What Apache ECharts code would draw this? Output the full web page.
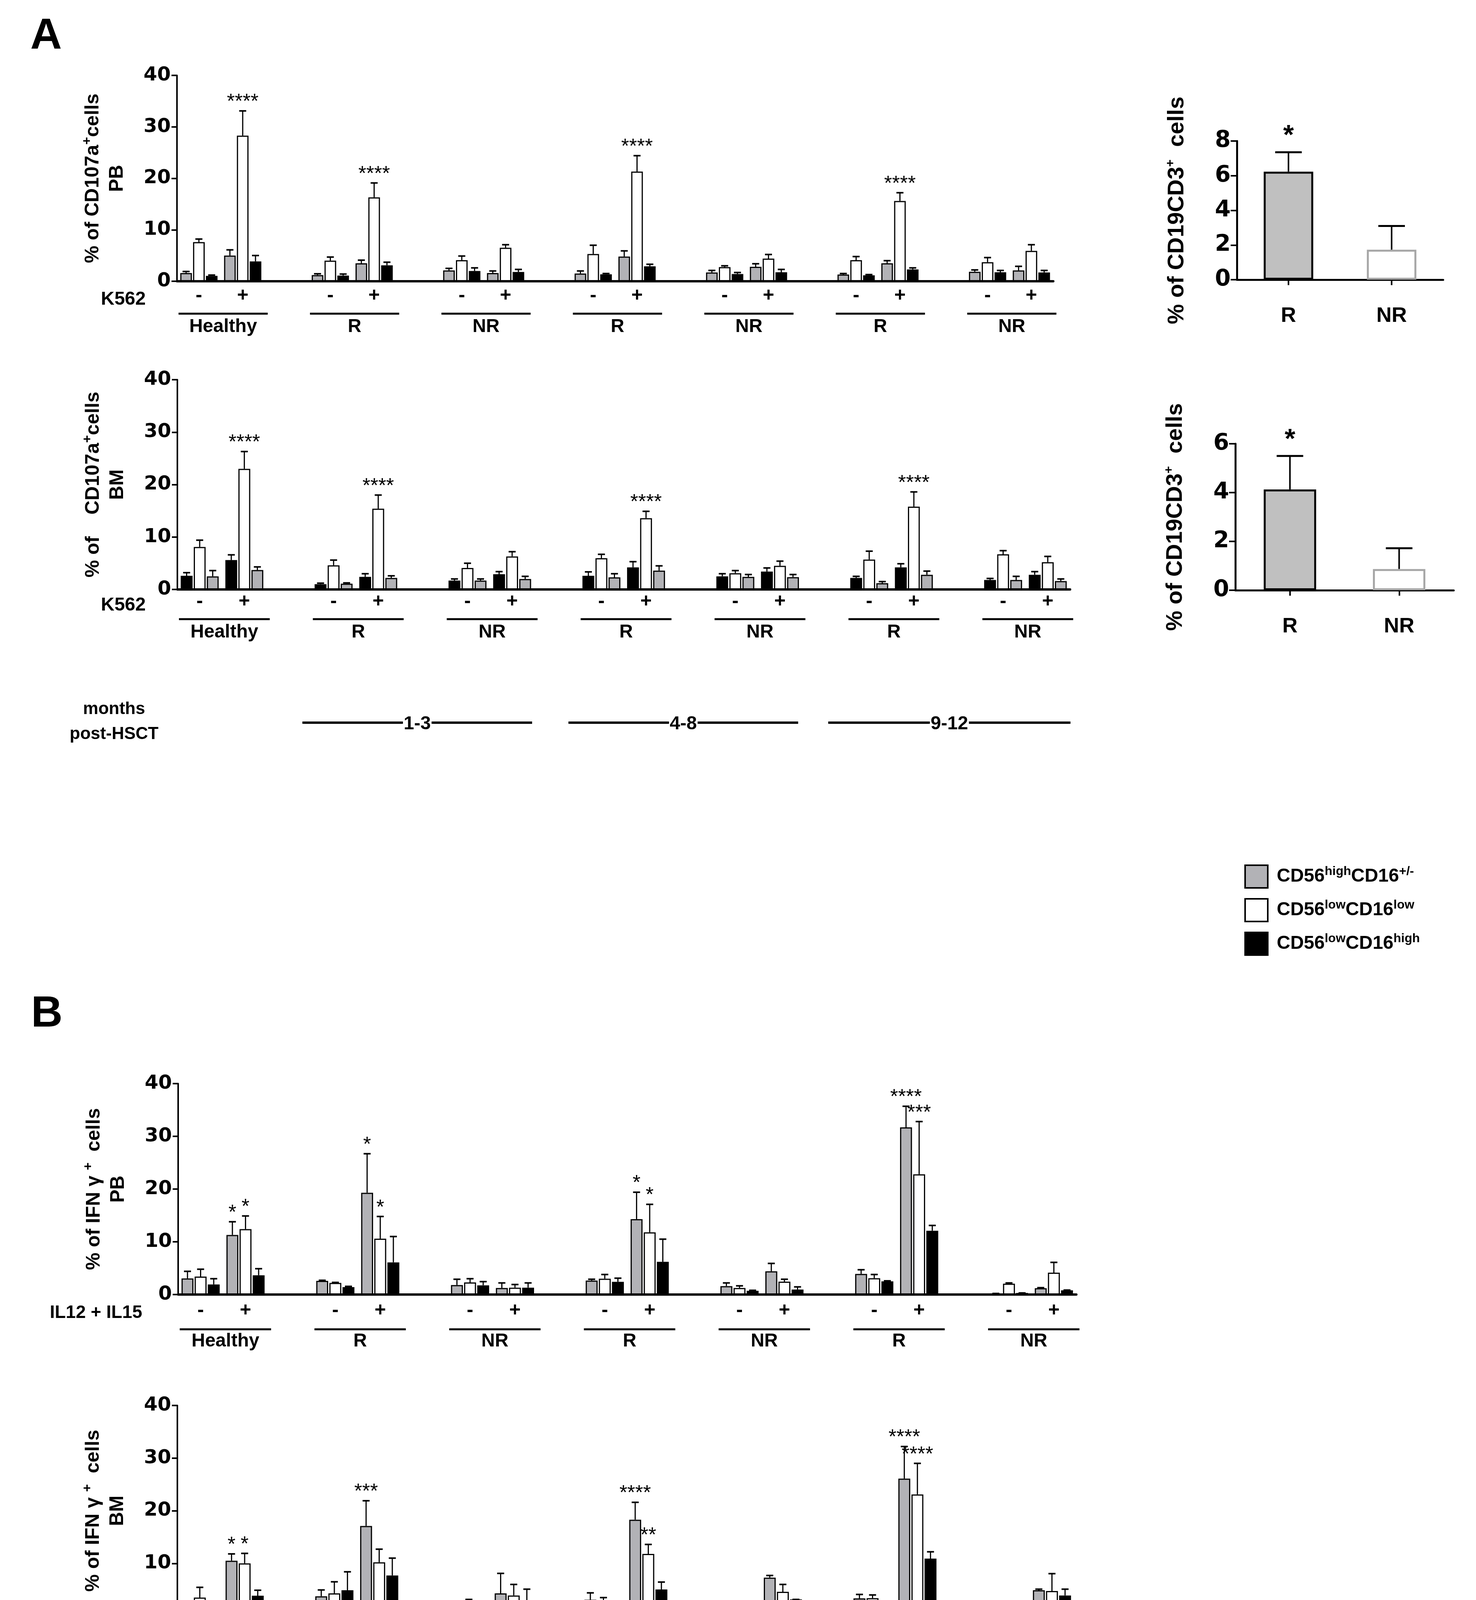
<!DOCTYPE html>
<html>
<head>
<meta charset="utf-8">
<script src="https://cdn.jsdelivr.net/npm/echarts@6/dist/echarts.min.js"></script>
<style>
  html, body { margin: 0; padding: 0; background: #fff; }
  #chart { width: 3778px; height: 4606px; }
</style>
</head>
<body>
<div id="chart"></div>
<script>
var FONT = '"Liberation Sans", Arial, sans-serif';
var NUM_FONT = '"DejaVu Sans", "Liberation Sans", sans-serif';
var CAT_GAP = 0.15;
var BAR_GAP = 0.1;

// x layout: 7 groups, each with a "-" and "+" condition
var subLabels = ['-', '+', '-', '+', '-', '+', '-', '+', '-', '+', '-', '+', '-', '+'];
var groupNames = ['Healthy', 'R', 'NR', 'R', 'NR', 'R', 'NR'];
var monthRanges = ['1-3', '4-8', '9-12'];
var subsetNames = ['CD56highCD16+/-', 'CD56lowCD16low', 'CD56lowCD16high'];

// A, CD107a+ PB (mean, upper end of error bar)
var aPbGray     = [1.6, 5.0, 1.2, 3.5, 2.1, 1.6, 1.5, 4.8, 1.7, 2.8, 1.3, 3.5, 1.85, 2.1];
var aPbGrayErr  = [1.9, 6.1, 1.45, 4.1, 2.5, 2.0, 2.0, 5.9, 2.1, 3.4, 1.5, 4.0, 2.2, 2.9];
var aPbWhite    = [7.6, 28.3, 4.0, 16.3, 4.1, 6.5, 5.3, 21.3, 2.75, 4.4, 4.1, 15.6, 3.7, 5.9];
var aPbWhiteErr = [8.2, 33.1, 4.7, 19.1, 4.9, 7.1, 7.0, 24.4, 3.0, 5.2, 4.8, 17.2, 4.6, 7.1];
var aPbBlack    = [1.05, 3.85, 1.1, 3.1, 2.0, 1.8, 1.35, 2.9, 1.4, 1.75, 1.15, 2.3, 1.75, 1.7];
var aPbBlackErr = [1.2, 5.0, 1.4, 3.7, 2.6, 2.3, 1.5, 3.3, 1.7, 2.3, 1.3, 2.6, 2.1, 2.1];
var aPbStars = [[1, 1, '****'], [3, 1, '****'], [7, 1, '****'], [11, 1, '****']];

// A, CD107a+ BM (bar order black, white, gray)
var aBmBlack    = [2.6, 5.6, 1.0, 2.4, 1.7, 2.9, 2.6, 4.2, 2.5, 3.4, 2.2, 4.2, 1.8, 2.8];
var aBmBlackErr = [3.2, 6.6, 1.2, 3.0, 2.0, 3.4, 3.35, 5.3, 3.0, 4.1, 2.5, 4.9, 2.1, 3.4];
var aBmWhite    = [8.1, 23.0, 4.6, 15.4, 4.1, 6.3, 5.95, 13.6, 3.1, 4.5, 5.7, 15.8, 6.7, 5.2];
var aBmWhiteErr = [9.4, 26.3, 5.6, 18.0, 5.0, 7.2, 6.7, 14.9, 3.6, 5.4, 7.3, 18.6, 7.4, 6.3];
var aBmGray     = [2.5, 3.7, 1.1, 2.2, 1.7, 2.0, 2.3, 3.6, 2.4, 2.35, 1.2, 2.8, 1.8, 1.6];
var aBmGrayErr  = [3.6, 4.3, 1.25, 2.6, 2.0, 2.5, 3.0, 4.5, 2.85, 2.85, 1.5, 3.5, 2.5, 2.0];
var aBmStars = [[1, 1, '****'], [3, 1, '****'], [7, 1, '****'], [11, 1, '****']];

// B, IFN-gamma+ PB
var bPbGray     = [3.05, 11.3, 2.6, 19.3, 1.8, 1.25, 2.65, 14.3, 1.6, 4.4, 3.9, 31.7, 0.2, 1.2];
var bPbGrayErr  = [4.4, 13.8, 2.7, 26.7, 2.9, 2.2, 2.9, 19.4, 2.2, 5.9, 4.7, 35.7, 0.2, 1.3];
var bPbWhite    = [3.4, 12.4, 2.2, 10.6, 2.3, 1.3, 3.0, 11.8, 1.25, 2.45, 3.1, 22.8, 2.05, 4.15];
var bPbWhiteErr = [4.8, 14.9, 2.3, 14.8, 3.0, 1.9, 3.8, 17.1, 1.65, 2.9, 3.8, 32.8, 2.2, 6.1];
var bPbBlack    = [1.9, 3.65, 1.4, 6.1, 1.75, 1.3, 2.4, 6.2, 0.7, 0.95, 2.5, 12.1, 0.3, 0.8];
var bPbBlackErr = [3.0, 4.9, 1.55, 11.0, 2.45, 2.2, 3.1, 10.5, 0.8, 1.45, 2.6, 13.1, 0.3, 0.85];
var bPbStars = [[1, 0, '*'], [1, 1, '*'], [3, 0, '*'], [3, 1, '*'], [7, 0, '*'], [7, 1, '*'],
                [11, 0, '****'], [11, 1, '***']];

// B, IFN-gamma+ BM
var bBmGray     = [1.55, 10.5, 3.75, 17.1, 0.5, 4.3, 3.1, 18.3, 0.9, 7.3, 3.35, 26.1, 1.0, 4.9];
var bBmGrayErr  = [2.75, 11.8, 4.95, 21.9, 0.7, 8.1, 4.4, 21.6, 1.1, 7.7, 4.1, 32.2, 1.3, 5.1];
var bBmWhite    = [3.5, 10.0, 4.3, 10.2, 1.75, 3.9, 2.65, 11.8, 1.75, 4.6, 3.4, 23.1, 0.65, 4.75];
var bBmWhiteErr = [5.45, 11.9, 6.5, 12.7, 3.15, 6.0, 3.5, 13.6, 2.5, 6.0, 4.0, 29.0, 1.05, 8.05];
var bBmBlack    = [1.55, 3.85, 4.9, 7.7, 0.65, 2.75, 2.25, 5.05, 1.4, 3.15, 2.4, 10.9, 1.2, 3.9];
var bBmBlackErr = [2.75, 4.9, 8.4, 11.0, 0.7, 5.1, 2.55, 6.45, 1.4, 3.15, 2.5, 12.2, 1.35, 5.1];
var bBmStars = [[1, 0, '*'], [1, 1, '*'], [3, 0, '***'], [7, 0, '****'], [7, 1, '**'],
                [11, 0, '****'], [11, 1, '****']];

// right panels: % of CD19CD3+ cells
var rightCats = ['R', 'NR'];
var cd19Pb = [6.23, 1.73];
var cd19PbErr = [7.35, 3.1];
var cd19Bm = [4.13, 0.87];
var cd19BmErr = [5.5, 1.72];

var SUBSET = {
  gray:  { name: subsetNames[0], fill: '#b2b2b6' },
  white: { name: subsetNames[1], fill: '#ffffff' },
  black: { name: subsetNames[2], fill: '#000000' }
};

// put an empty category between groups
function spread(vals, filler) {
  var out = [];
  for (var i = 0; i < vals.length; i++) {
    out.push(vals[i]);
    if (i % 2 === 1 && i < vals.length - 1) out.push(filler);
  }
  return out;
}
function catIndex(s) { return s + Math.floor(s / 2); }

function slotOffset(api, slot, nBars) {
  if (nBars === 1) return 0;
  var band = api.size([1, 0])[0];
  var w = band * (1 - CAT_GAP) / (nBars + (nBars - 1) * BAR_GAP);
  return slot * w * (1 + BAR_GAP);
}

var grids = [], xAxes = [], yAxes = [], series = [];

function errorSeries(gi, data, slot, nBars, capW, lineW) {
  return {
    type: 'custom', xAxisIndex: gi, yAxisIndex: gi, z: 4, silent: true, clip: false,
    encode: { x: 0, y: 1 },
    data: data,
    renderItem: function (params, api) {
      var x = api.coord([api.value(0), 0])[0] + slotOffset(api, slot, nBars);
      var yTop = api.coord([api.value(0), api.value(1)])[1];
      var yMean = api.coord([api.value(0), api.value(2)])[1];
      return {
        type: 'group',
        children: [
          { type: 'line', shape: { x1: x, y1: yMean, x2: x, y2: yTop },
            style: { stroke: '#000', lineWidth: lineW } },
          { type: 'line', shape: { x1: x - capW / 2, y1: yTop, x2: x + capW / 2, y2: yTop },
            style: { stroke: '#000', lineWidth: lineW + 1 } }
        ]
      };
    }
  };
}

function starSeries(gi, data, texts, nBars, font, gap) {
  return {
    type: 'custom', xAxisIndex: gi, yAxisIndex: gi, z: 5, silent: true, clip: false,
    encode: { x: 0, y: 1 },
    data: data,
    renderItem: function (params, api) {
      var x = api.coord([api.value(0), 0])[0] + slotOffset(api, api.value(2) - (nBars - 1) / 2, nBars);
      var y = api.coord([api.value(0), api.value(1)])[1] - gap;
      return {
        type: 'text', x: x, y: y,
        style: { text: texts[params.dataIndex], fill: '#000', font: font,
                 textAlign: 'center', align: 'center', textVerticalAlign: 'middle', verticalAlign: 'middle' }
      };
    }
  };
}

function groupSeries(gi, lineOff, textOff) {
  var data = groupNames.map(function (g, i) { return [3 * i, 0]; });
  return {
    type: 'custom', xAxisIndex: gi, yAxisIndex: gi, z: 5, silent: true, clip: false,
    encode: { x: 0, y: 1 },
    data: data,
    renderItem: function (params, api) {
      var band = api.size([1, 0])[0];
      var c = api.value(0);
      var p0 = api.coord([c, 0]);
      var p1 = api.coord([c + 1, 0]);
      var xs = p0[0] - band / 2 + 4, xe = p1[0] + band / 2 + 8;
      return {
        type: 'group',
        children: [
          { type: 'line', shape: { x1: xs, y1: p0[1] + lineOff, x2: xe, y2: p0[1] + lineOff },
            style: { stroke: '#000', lineWidth: 5 } },
          { type: 'text', x: (xs + xe) / 2, y: p0[1] + textOff,
            style: { text: groupNames[params.dataIndex], fill: '#000', font: 'bold 48px ' + FONT,
                     textAlign: 'center', align: 'center', textVerticalAlign: 'middle', verticalAlign: 'middle' } }
        ]
      };
    }
  };
}

function addMainPanel(p) {
  var gi = grids.length;
  grids.push(Object.assign({ containLabel: false, outerBoundsMode: 'none' }, p.grid));
  xAxes.push({
    gridIndex: gi, type: 'category', data: spread(subLabels, ''),
    axisLine: { lineStyle: { color: '#000', width: 6 } },
    axisTick: { show: false },
    axisLabel: { interval: 0, margin: p.labelMargin, fontSize: 50, fontWeight: 'bold', fontFamily: FONT, color: '#000' },
    splitLine: { show: false }
  });
  yAxes.push({
    gridIndex: gi, type: 'value', min: 0, max: 40, interval: 10,
    axisLine: { show: true, lineStyle: { color: '#000', width: 4 } },
    axisTick: { show: true, length: 14, lineStyle: { color: '#000', width: 4 } },
    axisLabel: { margin: 16, fontSize: 50, fontWeight: 'bold', fontFamily: NUM_FONT, color: '#000' },
    splitLine: { show: false },
    name: p.yName, nameLocation: 'middle', nameRotate: 90, nameGap: 122,
    nameTextStyle: {
      fontSize: 50, fontWeight: 'bold', fontFamily: FONT, color: '#000', lineHeight: 62,
      rich: { sup: { fontSize: 34, fontWeight: 'bold', fontFamily: FONT, color: '#000', verticalAlign: 'top', lineHeight: 36 } }
    }
  });
  p.order.forEach(function (key, k) {
    var means = p.means[k], tops = p.tops[k];
    series.push({
      type: 'bar', name: SUBSET[key].name, xAxisIndex: gi, yAxisIndex: gi,
      data: spread(means, '-'),
      barGap: (BAR_GAP * 100) + '%', barCategoryGap: (CAT_GAP * 100) + '%',
      itemStyle: { color: SUBSET[key].fill, borderColor: '#000', borderWidth: 3 },
      silent: true, z: 2
    });
    var errData = means.map(function (m, s) { return [catIndex(s), tops[s], m]; });
    series.push(errorSeries(gi, errData, k - 1, 3, 18, 3));
  });
  var starData = p.stars.map(function (st) { return [catIndex(st[0]), p.tops[st[1]][st[0]], st[1]]; });
  var starTexts = p.stars.map(function (st) { return st[2]; });
  series.push(starSeries(gi, starData, starTexts, 3, '52px ' + FONT, 22));
  series.push(groupSeries(gi, p.lineOff, p.textOff));
}

function addRightPanel(p) {
  var gi = grids.length;
  grids.push(Object.assign({ containLabel: false, outerBoundsMode: 'none' }, p.grid));
  xAxes.push({
    gridIndex: gi, type: 'category', data: rightCats,
    axisLine: { lineStyle: { color: '#000', width: 5 } },
    axisTick: { show: true, alignWithLabel: true, length: 14, lineStyle: { color: '#000', width: 4 } },
    axisLabel: { margin: 66, fontSize: 54, fontWeight: 'bold', fontFamily: FONT, color: '#000' },
    splitLine: { show: false }
  });
  yAxes.push({
    gridIndex: gi, type: 'value', min: 0, max: p.max, interval: 2,
    axisLine: { show: true, lineStyle: { color: '#000', width: 5 } },
    axisTick: { show: true, length: 16, lineStyle: { color: '#000', width: 4 } },
    axisLabel: { margin: 16, fontSize: 58, fontWeight: 'bold', fontFamily: NUM_FONT, color: '#000' },
    splitLine: { show: false },
    name: '% of CD19CD3{sup|+}  cells', nameLocation: 'middle', nameRotate: 90, nameGap: 120,
    nameTextStyle: {
      fontSize: 58, fontWeight: 'bold', fontFamily: FONT, color: '#000', lineHeight: 66,
      rich: { sup: { fontSize: 32, fontWeight: 'bold', fontFamily: FONT, color: '#000', verticalAlign: 'top', lineHeight: 32 } }
    }
  });
  var looks = [
    { color: '#c0c0c0', borderColor: '#000000', borderWidth: 5 },
    { color: '#ffffff', borderColor: '#a6a6a6', borderWidth: 5 }
  ];
  series.push({
    type: 'bar', xAxisIndex: gi, yAxisIndex: gi, barWidth: '48%', silent: true, z: 2,
    data: p.means.map(function (v, i) { return { value: v, itemStyle: looks[i] }; })
  });
  var errData = p.means.map(function (m, i) { return [i, p.tops[i], m]; });
  series.push(errorSeries(gi, errData, 0, 1, 68, 4));
  series.push(starSeries(gi, [[0, p.tops[0], 0]], ['*'], 1, 'bold 70px ' + FONT, 40));
}

addMainPanel({
  grid: { left: 453, top: 193, width: 2243, height: 527 },
  yName: '% of CD107a{sup|+}cells\nPB',
  order: ['gray', 'white', 'black'],
  means: [aPbGray, aPbWhite, aPbBlack], tops: [aPbGrayErr, aPbWhiteErr, aPbBlackErr],
  stars: aPbStars, labelMargin: 12, lineOff: 83, textOff: 117
});
addMainPanel({
  grid: { left: 454, top: 972, width: 2285, height: 537 },
  yName: '% of    CD107a{sup|+}cells\nBM',
  order: ['black', 'white', 'gray'],
  means: [aBmBlack, aBmWhite, aBmGray], tops: [aBmBlackErr, aBmWhiteErr, aBmGrayErr],
  stars: aBmStars, labelMargin: 6, lineOff: 76, textOff: 110
});
addMainPanel({
  grid: { left: 456, top: 2774, width: 2299, height: 540 },
  yName: '% of IFN \u03b3 {sup|+}  cells\nPB',
  order: ['gray', 'white', 'black'],
  means: [bPbGray, bPbWhite, bPbBlack], tops: [bPbGrayErr, bPbWhiteErr, bPbBlackErr],
  stars: bPbStars, labelMargin: 16, lineOff: 89, textOff: 120
});
addMainPanel({
  grid: { left: 454, top: 3598, width: 2296, height: 539 },
  yName: '% of IFN \u03b3 {sup|+}  cells\nBM',
  order: ['gray', 'white', 'black'],
  means: [bBmGray, bBmWhite, bBmBlack], tops: [bBmGrayErr, bBmWhiteErr, bBmBlackErr],
  stars: bBmStars, labelMargin: 20, lineOff: 92, textOff: 124
});
addRightPanel({ grid: { left: 3166, top: 361, width: 528, height: 355 }, max: 8, means: cd19Pb, tops: cd19PbErr });
addRightPanel({ grid: { left: 3162, top: 1136, width: 559, height: 375 }, max: 6, means: cd19Bm, tops: cd19BmErr });

var legendText = {
  'CD56highCD16+/-': '{m|CD56}{s|high}{m|CD16}{s|+/-}',
  'CD56lowCD16low': '{m|CD56}{s|low}{m|CD16}{s|low}',
  'CD56lowCD16high': '{m|CD56}{s|low}{m|CD16}{s|high}'
};

function txt(x, y, text, font, align) {
  return {
    type: 'text', x: x, y: y, silent: true,
    style: { text: text, font: font, fill: '#000', textAlign: align || 'center', align: align || 'center',
             textVerticalAlign: 'middle', verticalAlign: 'middle' }
  };
}
function hline(x1, x2, y) {
  return { type: 'line', silent: true, shape: { x1: x1, y1: y, x2: x2, y2: y }, style: { stroke: '#000', lineWidth: 6 } };
}
function monthsRow(yText1, yText2, yLine, spans) {
  var els = [
    txt(292, yText1, 'months', 'bold 44px ' + FONT),
    txt(292, yText2, 'post-HSCT', 'bold 44px ' + FONT)
  ];
  spans.forEach(function (sp, i) {
    els.push(hline(sp[0], sp[1], yLine));
    var t = txt((sp[0] + sp[1]) / 2, yLine + 4, monthRanges[i], 'bold 48px ' + FONT);
    t.style.backgroundColor = '#fff';
    t.style.padding = [0, 2];
    els.push(t);
  });
  return els;
}

var graphics = [
  txt(118, 94, 'A', 'bold 112px ' + FONT),
  txt(120, 2597, 'B', 'bold 112px ' + FONT),
  txt(373, 767, 'K562', 'bold 48px ' + FONT, 'right'),
  txt(373, 1550, 'K562', 'bold 48px ' + FONT, 'right'),
  txt(364, 3361, 'IL12 + IL15', 'bold 46px ' + FONT, 'right'),
  txt(358, 4189, 'IL12 + IL15', 'bold 46px ' + FONT, 'right')
].concat(
  monthsRow(1816, 1880, 1850, [[774, 1362], [1455, 2043], [2120, 2740]]),
  monthsRow(4466, 4530, 4501, [[770, 1357], [1451, 2039], [2109, 2697]])
);

var chart = echarts.init(document.getElementById('chart'), null, { renderer: 'canvas' });
chart.setOption({
  animation: false,
  backgroundColor: '#ffffff',
  grid: grids,
  xAxis: xAxes,
  yAxis: yAxes,
  series: series,
  legend: {
    orient: 'vertical', left: 3180, top: 2208,
    itemWidth: 58, itemHeight: 58, itemGap: 24, icon: 'rect',
    selectedMode: false,
    data: subsetNames,
    itemStyle: { borderColor: '#000', borderWidth: 4 },
    formatter: function (name) { return legendText[name]; },
    textStyle: {
      padding: [0, 0, 0, 18],
      rich: {
        m: { fontSize: 48, fontWeight: 'bold', fontFamily: FONT, color: '#000', lineHeight: 58 },
        s: { fontSize: 32, fontWeight: 'bold', fontFamily: FONT, color: '#000', lineHeight: 30, verticalAlign: 'top' }
      }
    }
  },
  graphic: graphics
});
</script>
</body>
</html>
